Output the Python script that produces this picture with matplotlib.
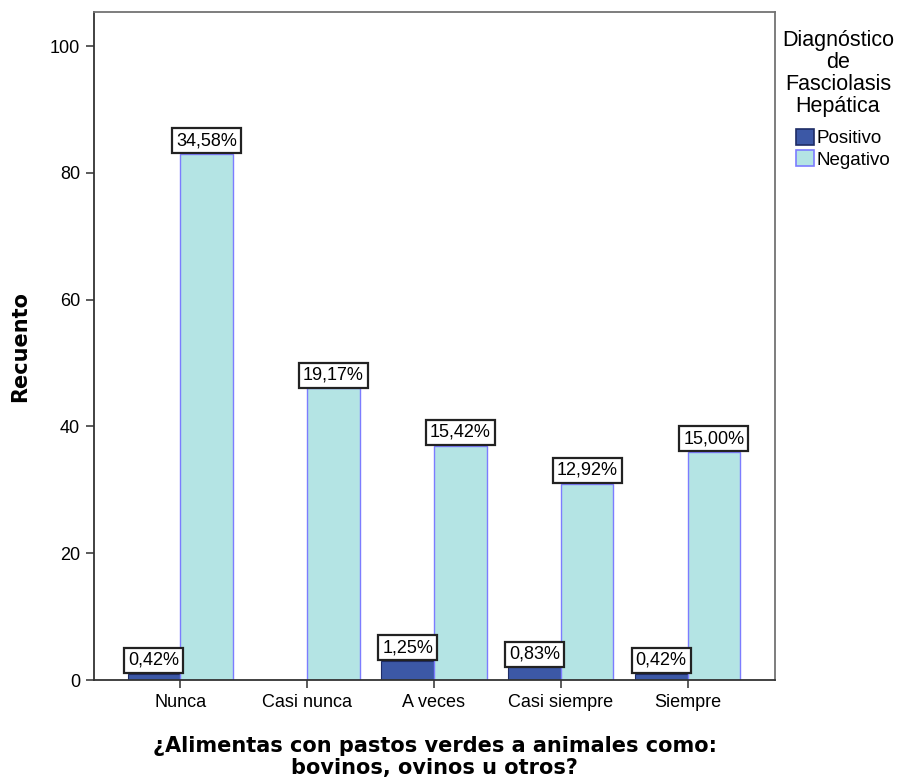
import matplotlib
matplotlib.use("Agg")
import matplotlib.pyplot as plt
import numpy as np
from matplotlib.patches import Patch

plt.rcParams["font.family"] = ["Liberation Sans", "DejaVu Sans"]

categorias = ["Nunca", "Casi nunca", "A veces", "Casi siempre", "Siempre"]
positivo = [1, 0, 3, 2, 1]
negativo = [83, 46, 37, 31, 36]
pct_pos = ["0,42%", None, "1,25%", "0,83%", "0,42%"]
pct_neg = ["34,58%", "19,17%", "15,42%", "12,92%", "15,00%"]

C_POS, E_POS = "#3C58A6", "#1E2C66"
C_NEG, E_NEG = "#B4E4E4", "#7C7CFF"

fig = plt.figure(figsize=(9.05, 7.8), dpi=100)
ax = fig.add_axes([0.1039, 0.1282, 0.7525, 0.8564])

x = np.arange(len(categorias))
w = 0.415
ax.bar(x - w / 2, positivo, w, color=C_POS, edgecolor=E_POS, lw=0.8)
ax.bar(x + w / 2, negativo, w, color=C_NEG, edgecolor=E_NEG, lw=1.0)

# percentage labels sit on the bar top, boxed
box = dict(boxstyle="square,pad=0.22", fc="white", ec="#222222", lw=1.6)
for xi, v, t in zip(x - w / 2, positivo, pct_pos):
    if t:
        ax.text(xi, v + 0.75, t, ha="center", va="bottom", fontsize=13,
                bbox=box)
for xi, v, t in zip(x + w / 2, negativo, pct_neg):
    ax.text(xi, v + 0.75, t, ha="center", va="bottom", fontsize=13, bbox=box)

ax.set_xlim(-0.68, 4.69)
ax.set_ylim(0, 105.4)
ax.set_yticks([0, 20, 40, 60, 80, 100])
ax.set_xticks(x)
ax.set_xticklabels(categorias)
ax.tick_params(axis="both", labelsize=13, length=6, width=1.2, color="0.25",
               pad=4)
for s in ("left", "bottom"):
    ax.spines[s].set_color("0.2")
    ax.spines[s].set_linewidth(1.3)
for s in ("top", "right"):
    ax.spines[s].set_color("0.45")
    ax.spines[s].set_linewidth(1.3)

lab_font = dict(family="DejaVu Sans", fontweight="bold")
ax.set_ylabel("Recuento", fontsize=15, labelpad=14, **lab_font)
ax.set_xlabel("¿Alimentas con pastos verdes a animales como:\nbovinos, ovinos u otros?",
              fontsize=15, labelpad=18, linespacing=1.15, **lab_font)

fig.text(0.926, 0.962, "Diagnóstico\nde\nFasciolasis\nHepática", ha="center",
         va="top", fontsize=15.5, linespacing=1.07)
fig.legend(handles=[Patch(facecolor=C_POS, edgecolor=E_POS, lw=1.2,
                          label="Positivo"),
                    Patch(facecolor=C_NEG, edgecolor=E_NEG, lw=1.2,
                          label="Negativo")],
           loc="upper left", bbox_to_anchor=(0.869, 0.847), frameon=False,
           fontsize=13.5, handlelength=0.95, handleheight=0.95,
           handletextpad=0.15, labelspacing=0.15, borderpad=0)

fig.savefig("out.png", dpi=100)
